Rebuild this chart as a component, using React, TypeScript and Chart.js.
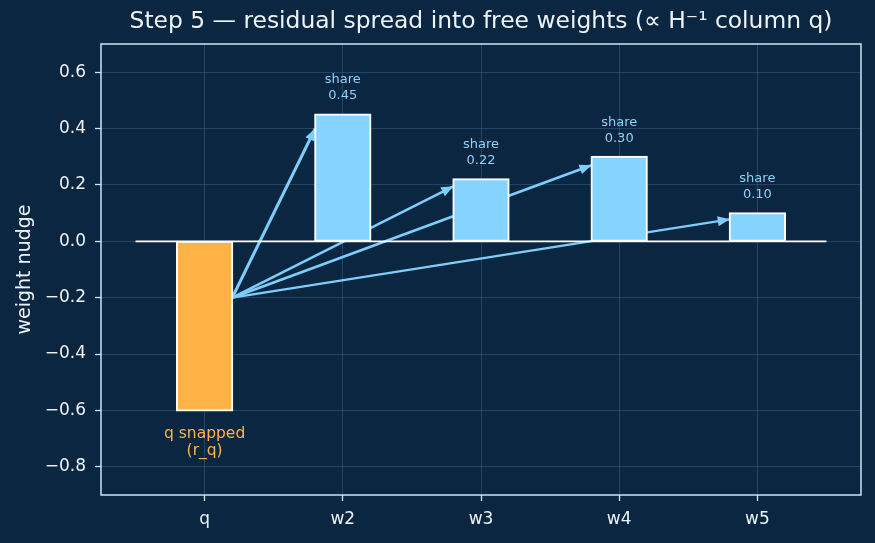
import { useEffect, useRef } from "react";
import { Chart, registerables } from "chart.js";

Chart.register(...registerables);

// Weight nudges per column: q is the snapped weight, w2..w5 receive the residual.
const categories = ["q", "w2", "w3", "w4", "w5"];
const nudges = [-0.6, 0.45, 0.22, 0.3, 0.1];
// Where each spread arrow leaves the q bar and where its head lands on the target bar.
const arrowStart = -0.2;
const arrowTips = [0.4, 0.195, 0.27, 0.078];
const yTicks = [-0.8, -0.6, -0.4, -0.2, 0.0, 0.2, 0.4, 0.6];
const yRange = [-0.9, 0.7];
const xRange = [-0.75, 4.75];

const BG = "#0b2640";
const BLUE = "#85d3ff";
const ARROW = "#7ecdfa";
const ORANGE = "#ffb347";
const SPINE = "#cde4f5";
const TEXT = "#eef3f8";
const GRID = "rgba(60, 100, 135, 0.5)";
const FONT = "'DejaVu Sans', sans-serif";
const BAR_WIDTH = 0.4;

const fmt = (v: number) => v.toFixed(1).replace("-", "\u2212");

export default function App() {
  const canvasRef = useRef<HTMLCanvasElement | null>(null);

  useEffect(() => {
    const canvas = canvasRef.current;
    if (!canvas) return;

    const half = BAR_WIDTH / 2;
    const shares = nudges.slice(1);

    const arrowSets = shares.map((s, k) => ({
      type: "line" as const,
      data: [
        { x: 0 + half, y: arrowStart },
        { x: k + 1 - half, y: arrowTips[k] },
      ],
      borderColor: ARROW,
      borderWidth: 1.9 + 2.6 * s,
      pointRadius: 0,
      fill: false,
      order: 3,
      arrow: true,
    }));

    const bgPlugin = {
      id: "bg",
      beforeDraw(chart: any) {
        const { ctx, width, height } = chart;
        ctx.save();
        ctx.fillStyle = BG;
        ctx.fillRect(0, 0, width, height);
        ctx.restore();
      },
    };

    const arrowHeads = {
      id: "arrowHeads",
      afterDatasetDraw(chart: any, args: any) {
        const ds = chart.data.datasets[args.index];
        if (!ds.arrow) return;
        const pts = args.meta.data;
        const a = pts[0];
        const b = pts[1];
        const ang = Math.atan2(b.y - a.y, b.x - a.x);
        const len = 12;
        const hw = 5;
        const { ctx } = chart;
        ctx.save();
        ctx.fillStyle = ARROW;
        ctx.translate(b.x, b.y);
        ctx.rotate(ang);
        ctx.beginPath();
        ctx.moveTo(0, 0);
        ctx.lineTo(-len, -hw);
        ctx.lineTo(-len, hw);
        ctx.closePath();
        ctx.fill();
        ctx.restore();
      },
    };

    const decorations = {
      id: "decorations",
      afterDraw(chart: any) {
        const { ctx, chartArea } = chart;
        const xs = chart.scales.x;
        const ys = chart.scales.y;
        ctx.save();

        // frame
        ctx.strokeStyle = SPINE;
        ctx.lineWidth = 1.5;
        ctx.strokeRect(
          chartArea.left,
          chartArea.top,
          chartArea.right - chartArea.left,
          chartArea.bottom - chartArea.top
        );

        // title
        ctx.fillStyle = TEXT;
        ctx.font = `23.4px ${FONT}`;
        ctx.textAlign = "center";
        ctx.textBaseline = "middle";
        ctx.fillText(
          "Step 5 \u2014 residual spread into free weights (\u221d H\u207b\u00b9 column q)",
          (chartArea.left + chartArea.right) / 2,
          22
        );

        // y-axis title
        ctx.save();
        ctx.translate(25, (chartArea.top + chartArea.bottom) / 2);
        ctx.rotate(-Math.PI / 2);
        ctx.font = `19px ${FONT}`;
        ctx.fillText("weight nudge", 0, 0);
        ctx.restore();

        // share labels above receiving bars
        ctx.textBaseline = "alphabetic";
        ctx.font = `13px ${FONT}`;
        ctx.fillStyle = "#8fd0f7";
        shares.forEach((s, k) => {
          const px = xs.getPixelForValue(k + 1);
          const py = ys.getPixelForValue(s);
          ctx.fillText("share", px, py - 31);
          ctx.fillText(s.toFixed(2), px, py - 15);
        });

        // snapped label under q
        ctx.font = `15.5px ${FONT}`;
        ctx.fillStyle = ORANGE;
        const qx = xs.getPixelForValue(0);
        const qy = ys.getPixelForValue(nudges[0]);
        ctx.fillText("q snapped", qx, qy + 28);
        ctx.fillText("(r_q)", qx, qy + 45);

        ctx.restore();
      },
    };

    const chart = new Chart(canvas, {
      type: "bar",
      data: {
        datasets: [
          {
            type: "bar",
            data: nudges.map((v, i) => ({ x: i, y: v })),
            backgroundColor: nudges.map((_, i) => (i === 0 ? ORANGE : BLUE)),
            borderColor: "#ffffff",
            borderWidth: 2,
            borderSkipped: false,
            inflateAmount: 1,
            barPercentage: BAR_WIDTH,
            categoryPercentage: 1,
            order: 2,
          } as any,
          {
            type: "line",
            data: [
              { x: -0.5, y: 0 },
              { x: categories.length - 0.5, y: 0 },
            ],
            borderColor: "#ffffff",
            borderWidth: 1.8,
            pointRadius: 0,
            fill: false,
            order: 1,
          } as any,
          ...(arrowSets as any[]),
        ],
      },
      options: {
        animation: false,
        responsive: false,
        devicePixelRatio: 1,
        layout: { padding: { left: 0, right: 14, top: 44, bottom: 0 } },
        plugins: {
          legend: { display: false },
          tooltip: { enabled: false },
        },
        events: [],
        scales: {
          x: {
            type: "linear",
            min: xRange[0],
            max: xRange[1],
            offset: false,
            z: 1,
            afterBuildTicks(scale: any) {
              scale.ticks = categories.map((_, i) => ({ value: i }));
            },
            afterFit(scale: any) {
              scale.height = 48;
            },
            ticks: {
              color: TEXT,
              font: { family: FONT, size: 17 },
              padding: 8,
              maxRotation: 0,
              autoSkip: false,
              callback: (v: any) => categories[v as number] ?? "",
            },
            grid: {
              offset: false,
              color: GRID,
              lineWidth: 1,
              drawTicks: true,
              tickLength: 6,
              tickColor: SPINE,
              tickWidth: 1.3,
            },
            border: { display: false },
          },
          y: {
            type: "linear",
            min: yRange[0],
            max: yRange[1],
            z: 1,
            afterBuildTicks(scale: any) {
              scale.ticks = yTicks.map((v) => ({ value: v }));
            },
            afterFit(scale: any) {
              scale.width = 101;
            },
            ticks: {
              color: TEXT,
              font: { family: FONT, size: 17 },
              padding: 9,
              callback: (v: any) => fmt(v as number),
            },
            grid: {
              color: GRID,
              lineWidth: 1,
              drawTicks: true,
              tickLength: 6,
              tickColor: SPINE,
              tickWidth: 1.3,
            },
            border: { display: false },
          },
        },
      } as any,
      plugins: [bgPlugin, arrowHeads, decorations],
    });

    return () => chart.destroy();
  }, []);

  return (
    <div style={{ position: "fixed", left: 0, top: 0, width: 875, height: 543 }}>
      <canvas ref={canvasRef} width={875} height={543} />
    </div>
  );
}
